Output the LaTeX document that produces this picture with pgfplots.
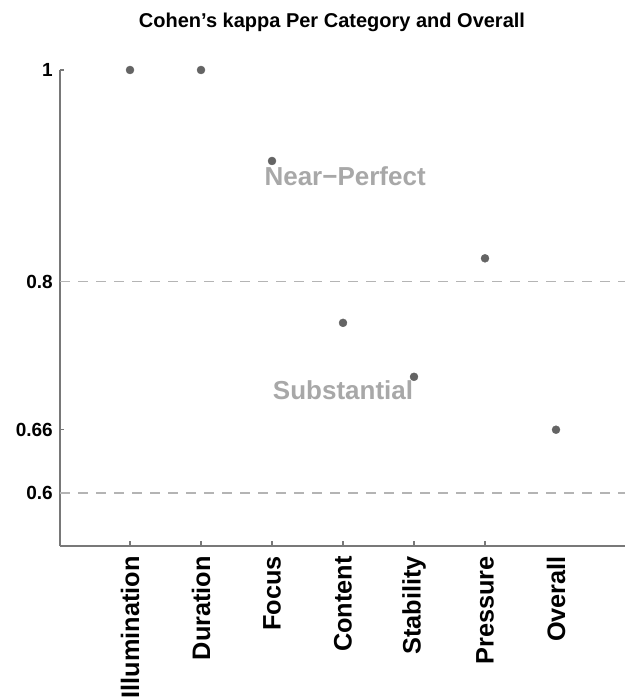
\documentclass[border=0pt]{standalone}
\usepackage{pgfplots}
\pgfplotsset{compat=1.18}
\usepackage{fontspec}
\setmainfont{Liberation Sans}
\definecolor{axgray}{RGB}{120,120,120}
\definecolor{dashgray}{RGB}{180,180,180}
\definecolor{dotgray}{RGB}{100,100,100}
\definecolor{lblgray}{RGB}{168,168,168}
\begin{document}
\begin{tikzpicture}
\useasboundingbox (-60pt,-154pt) rectangle (570pt,546pt);
\begin{axis}[
  at={(0pt,0pt)}, anchor=south west,
  scale only axis, width=565pt, height=476pt,
  xmin=-0.986, xmax=6.972, ymin=0.5501, ymax=1,
  axis x line=bottom, axis y line=left,
  axis line style={axgray, line width=1.5pt, -},
  clip=false,
  xtick={0,...,5},
  xticklabels={Illumination,Duration,Focus,Content,Stability,Pressure},
  extra x ticks={6}, extra x tick labels={Overall},
  extra x tick style={major tick length=0pt},
  ytick={0.6,0.66,0.8,1},
  yticklabels={0.6,0.66,0.8,1},
  major tick length=4.5pt,
  tick style={axgray, line width=1.2pt},
  tick align=inside,
  xticklabel style={yshift=-10pt, rotate=90, anchor=east, inner sep=0pt, font=\fontsize{25.3}{25.3}\selectfont\bfseries},
  yticklabel style={xshift=-7pt, anchor=east, inner sep=0pt, font=\fontsize{19}{19}\selectfont\bfseries},
]
\addplot[dashgray, line width=1.6pt, dash pattern=on 10pt off 8pt] coordinates {(-0.986,0.8) (6.972,0.8)};
\addplot[dashgray, line width=1.6pt, dash pattern=on 10pt off 8pt] coordinates {(-0.986,0.6) (6.972,0.6)};
\addplot[only marks, mark=*, mark size=4pt, mark options={draw=dotgray, fill=dotgray}] coordinates {
(0,1.0) (1,1.0) (2,0.914) (3,0.761) (4,0.710) (5,0.822) (6,0.66)};
\node[lblgray, font=\fontsize{26}{26}\selectfont\bfseries, anchor=base] at (axis cs:3.03,0.891) {Near−Perfect};
\node[lblgray, font=\fontsize{26}{26}\selectfont\bfseries, anchor=base] at (axis cs:3.0,0.689) {Substantial};
\end{axis}
\node[anchor=base, font=\fontsize{20}{20}\selectfont\bfseries] at (272pt,518pt) {Cohen’s kappa Per Category and Overall};
\end{tikzpicture}
\end{document}
